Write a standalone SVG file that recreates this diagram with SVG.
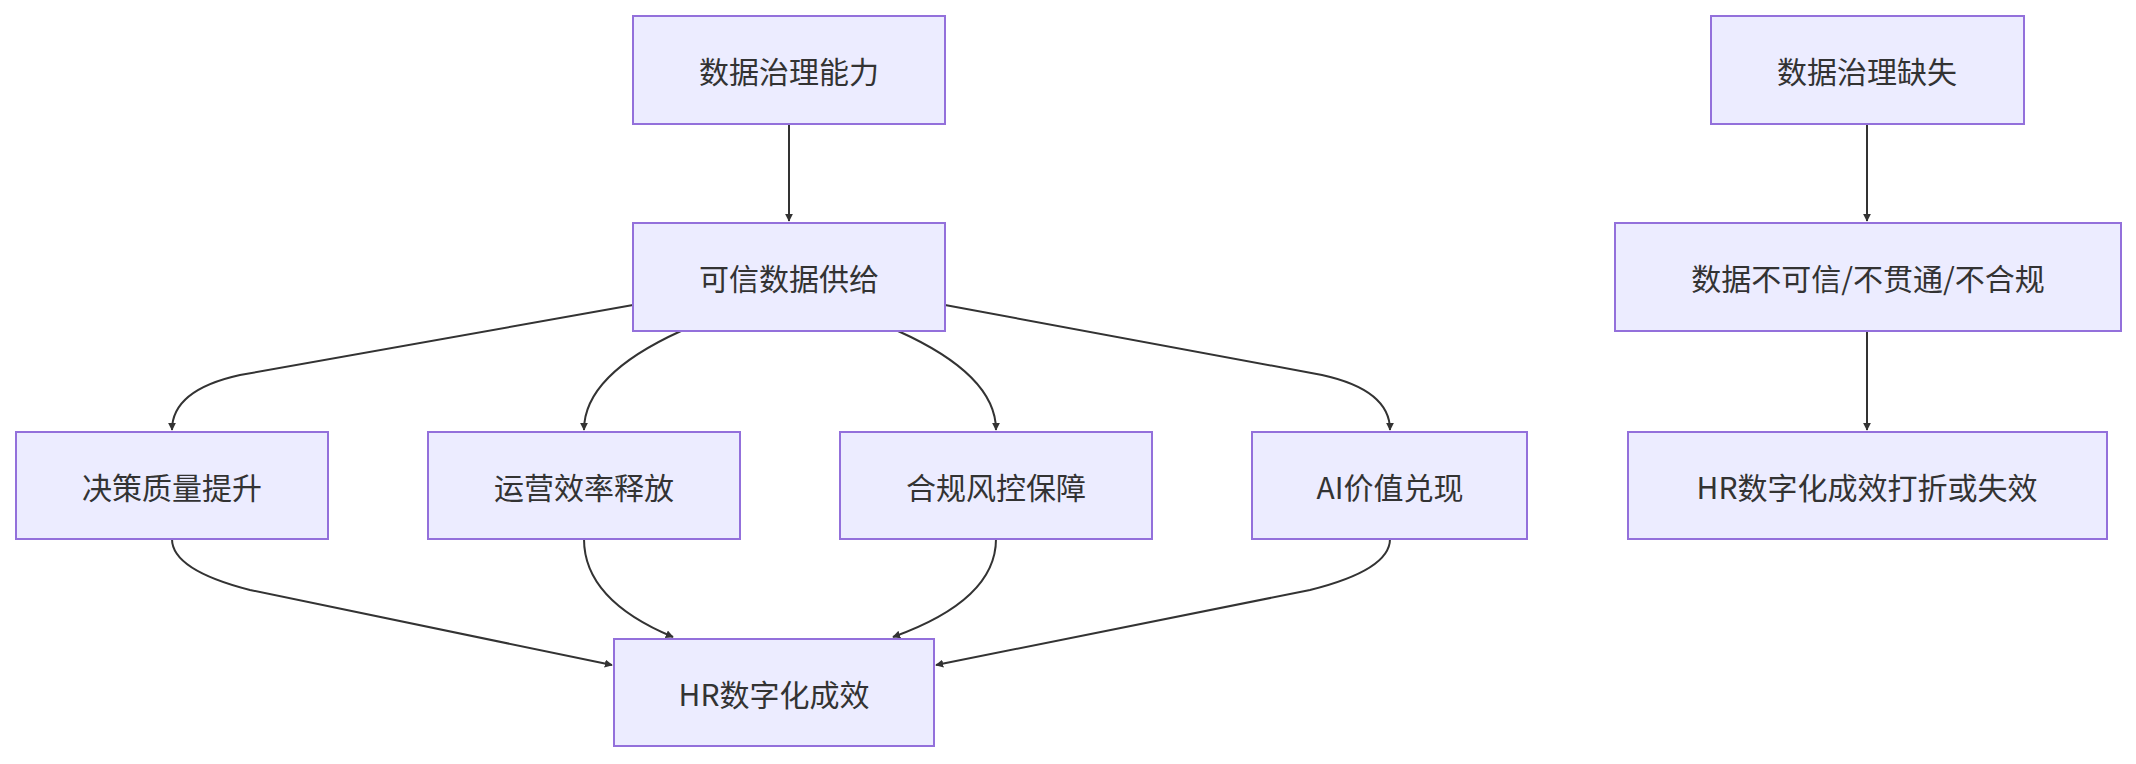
<svg xmlns="http://www.w3.org/2000/svg" width="2136" height="764" viewBox="0 0 2136 764">
<style>
.n rect{fill:#ECECFF;stroke:#9370DB;stroke-width:2}
.n text{font-family:"Noto Sans CJK SC","Liberation Sans",sans-serif;font-size:30px;fill:#333;text-anchor:middle;dominant-baseline:central}
.e path{fill:none;stroke:#333;stroke-width:2;marker-end:url(#a)}
</style>
<defs><marker id="a" viewBox="0 0 10 10" refX="9" refY="5" markerWidth="8" markerHeight="8" orient="auto" markerUnits="userSpaceOnUse"><path d="M0,0L10,5L0,10z" fill="#333"/></marker></defs>
<rect width="2136" height="764" fill="#fff"/>
<g class="e">
<path d="M789,124V221"/>
<path d="M633,305L240,375Q172,390 172,430"/>
<path d="M681,331Q584,375 584,430"/>
<path d="M898,331Q996,375 996,430"/>
<path d="M945,305L1322,375Q1390,390 1390,430"/>
<path d="M172,539Q172,570 250,590L612,665"/>
<path d="M584,539Q584,600 673,637"/>
<path d="M996,539Q996,600 893,637"/>
<path d="M1390,539Q1390,570 1310,590L936,665"/>
<path d="M1867,124V221"/>
<path d="M1867,331V430"/>
</g>
<g class="n" id="A"><rect x="633" y="16" width="312" height="108"/><text x="789" y="70">数据治理能力</text></g>
<g class="n" id="B"><rect x="633" y="223" width="312" height="108"/><text x="789" y="277">可信数据供给</text></g>
<g class="n" id="C1"><rect x="16" y="432" width="312" height="107"/><text x="172" y="486">决策质量提升</text></g>
<g class="n" id="C2"><rect x="428" y="432" width="312" height="107"/><text x="584" y="486">运营效率释放</text></g>
<g class="n" id="C3"><rect x="840" y="432" width="312" height="107"/><text x="996" y="486">合规风控保障</text></g>
<g class="n" id="C4"><rect x="1252" y="432" width="275" height="107"/><text x="1390" y="486">AI价值兑现</text></g>
<g class="n" id="H"><rect x="614" y="639" width="320" height="107"/><text x="774" y="693">HR数字化成效</text></g>
<g class="n" id="R1"><rect x="1711" y="16" width="313" height="108"/><text x="1867" y="70">数据治理缺失</text></g>
<g class="n" id="R2"><rect x="1615" y="223" width="506" height="108"/><text x="1868" y="277">数据不可信/不贯通/不合规</text></g>
<g class="n" id="R3"><rect x="1628" y="432" width="479" height="107"/><text x="1867" y="486">HR数字化成效打折或失效</text></g>
</svg>
